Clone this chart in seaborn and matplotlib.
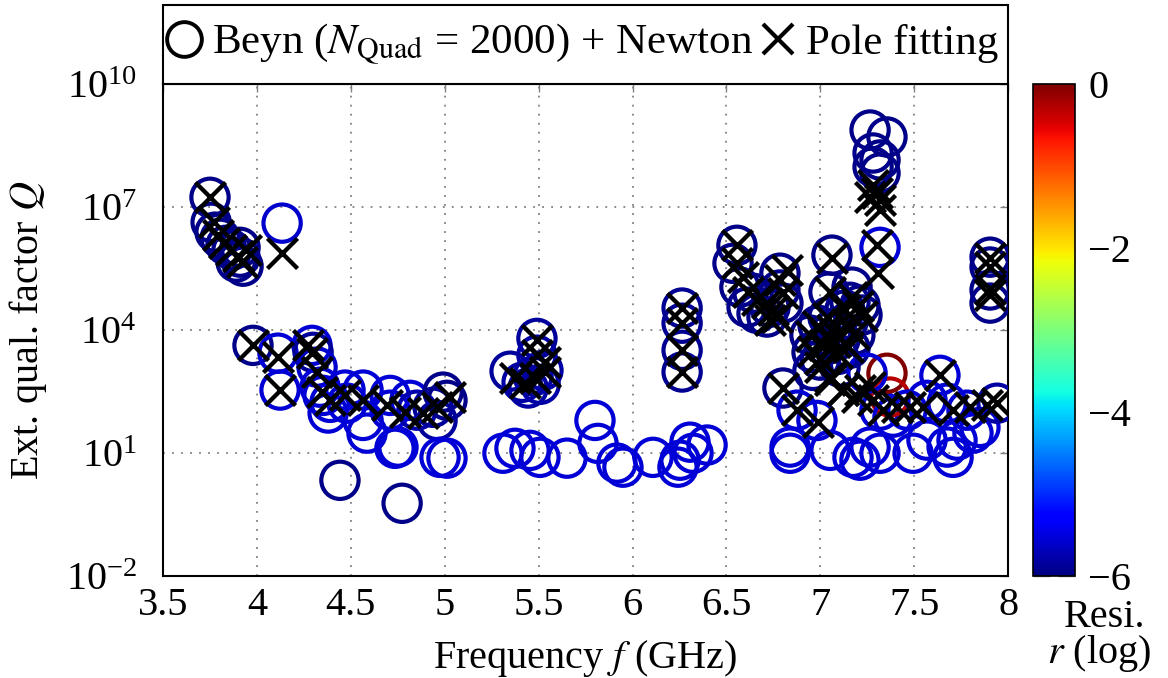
import numpy as np
import pandas as pd
import seaborn as sns
import matplotlib
matplotlib.use("Agg")
import matplotlib.pyplot as plt
from matplotlib.lines import Line2D
from matplotlib.patches import Rectangle
from matplotlib.ticker import NullLocator

# Beyn + Newton eigenvalues: frequency (GHz), log10 of Q, log10 residual
beyn_f = [
    3.750, 3.756, 3.777, 3.804, 3.835, 3.867, 3.910, 3.910, 3.889, 3.926, 4.134,
    3.979, 4.112, 4.123, 4.293, 4.299, 4.320, 4.336, 4.352, 4.379, 4.389, 4.469,
    4.480, 4.565, 4.565, 4.586, 4.709, 4.709, 4.735, 4.751, 4.815, 4.852, 4.938,
    4.991, 5.012, 4.959, 4.975, 5.012, 4.442, 4.773,
    5.491, 5.491, 5.348, 5.412, 5.470, 5.523, 5.444, 5.508,
    5.310, 5.374, 5.454, 5.507, 5.651, 5.800, 5.816, 5.917, 5.949, 6.109, 6.253,
    6.306, 6.397, 6.242, 6.322,
    6.264, 6.264, 6.264, 6.264,
    6.556, 6.535, 6.572, 6.642, 6.785, 6.785, 6.732, 6.663, 6.610, 6.801, 6.716,
    7.062, 7.046, 7.169, 7.158, 7.318,
    6.945, 6.988, 7.025, 7.062, 7.105, 7.147, 7.184, 7.222, 6.956, 7.094, 7.158,
    7.041, 7.131, 7.211, 7.000, 6.961,
    6.801, 6.876, 6.982, 6.839, 6.839, 7.052, 7.174, 7.211, 7.265, 7.318, 7.355,
    7.371, 7.249, 7.105, 7.637, 7.462, 7.494, 7.568, 7.675, 7.728, 7.707, 7.813,
    7.850, 7.941, 7.781, 7.568, 7.675, 7.387, 7.318,
    7.265, 7.355, 7.281, 7.318, 7.281, 7.318,
    7.904, 7.904, 7.904, 7.904,
]
beyn_log10q = [
    7.24, 6.63, 6.39, 6.24, 6.07, 5.95, 6.02, 5.78, 5.66, 5.56, 6.61,
    3.63, 3.44, 2.54, 3.63, 3.46, 3.10, 2.61, 2.41, 1.98, 2.24, 2.54,
    2.22, 2.54, 1.80, 1.49, 2.41, 2.05, 1.12, 1.15, 2.29, 2.05, 2.12,
    2.49, 2.29, 1.80, 0.90, 0.88, 0.34, -0.22,
    3.80, 3.39, 3.00, 2.73, 2.88, 3.02, 2.59, 2.68,
    1.00, 1.12, 1.07, 0.90, 0.88, 1.80, 1.24, 0.76, 0.66, 0.90, 0.83,
    1.27, 1.20, 0.66, 1.00,
    4.54, 4.17, 3.51, 2.98,
    6.07, 5.63, 5.05, 4.90, 5.39, 4.98, 4.56, 4.41, 4.56, 4.66, 4.32,
    5.83, 4.93, 5.05, 4.68, 6.02,
    3.88, 4.12, 3.63, 4.00, 3.78, 4.20, 3.88, 4.37, 3.46, 3.41, 3.56,
    4.32, 4.49, 4.61, 3.27, 3.02,
    2.59, 2.05, 1.80, 1.15, 1.00, 1.07, 0.90, 0.83, 1.15, 2.05, 2.95,
    2.37, 2.95, 3.10, 2.90, 2.05, 1.00, 1.32, 1.15, 1.32, 0.90, 1.49,
    1.63, 2.22, 2.05, 2.29, 2.22, 1.88, 1.00,
    8.88, 8.71, 8.32, 8.15, 7.98, 7.83,
    5.78, 5.54, 4.98, 4.66,
]
beyn_resi = [
    -5.95, -5.95, -5.95, -5.95, -5.95, -5.95, -5.95, -5.95, -5.95, -5.95, -5.6,
    -5.95, -5.55, -5.55, -5.55, -5.85, -5.6, -5.55, -5.55, -5.55, -5.55, -5.55,
    -5.55, -5.55, -5.55, -5.55, -5.55, -5.55, -5.55, -5.55, -5.55, -5.75, -5.85,
    -5.95, -5.95, -5.85, -5.55, -5.55, -5.95, -5.95,
    -5.85, -5.8, -5.85, -5.8, -5.8, -5.8, -5.8, -5.8,
    -5.55, -5.55, -5.55, -5.55, -5.55, -5.55, -5.55, -5.55, -5.55, -5.55, -5.55,
    -5.55, -5.55, -5.55, -5.55,
    -5.9, -5.9, -5.9, -5.9,
    -5.95, -5.95, -5.95, -5.95, -5.95, -5.95, -5.95, -5.95, -5.95, -5.95, -5.95,
    -5.95, -5.95, -5.95, -5.95, -5.55,
    -5.95, -5.95, -5.95, -5.95, -5.95, -5.95, -5.95, -5.95, -5.95, -5.95, -5.95,
    -5.95, -5.95, -5.95, -5.95, -5.9,
    -5.95, -5.55, -5.55, -5.55, -5.55, -5.55, -5.55, -5.55, -5.55, -5.55, 0.0,
    -0.3, -5.55, -5.9, -5.55, -5.55, -5.55, -5.55, -5.55, -5.55, -5.55, -5.55,
    -5.55, -5.8, -5.55, -5.55, -5.55, -5.55, -5.55,
    -5.95, -5.95, -5.95, -5.95, -5.95, -5.95,
    -5.95, -5.95, -5.95, -5.95,
]

# pole fitting results
pole_f = [
    3.750, 3.772, 3.793, 3.825, 3.862, 3.899, 3.921, 3.942, 4.134,
    3.979, 4.112, 4.123, 4.272, 4.293, 4.320, 4.347, 4.389, 4.469, 4.565, 4.693,
    4.789, 4.884, 4.959, 5.028,
    5.491, 5.491, 5.374, 5.428, 5.481, 5.534, 5.534,
    6.264, 6.264, 6.264, 6.264,
    6.556, 6.556, 6.588, 6.615, 6.663, 6.716, 6.748, 6.785, 6.823, 6.801, 6.769, 6.732,
    7.302, 7.307, 7.062, 7.052, 7.169,
    6.95, 6.99, 7.02, 7.06, 7.10, 7.14, 7.18, 7.22, 6.96, 7.09, 7.15, 7.04, 7.13,
    7.20, 7.00, 7.03, 7.08,
    6.998, 7.052, 7.121, 7.195, 7.265,
    6.801, 6.876, 6.988, 7.052, 7.121, 7.211, 7.281, 7.334, 7.409, 7.478, 7.547,
    7.637, 7.707, 7.797, 7.888, 7.941,
    7.281, 7.302, 7.318, 7.318, 7.265,
    7.904, 7.904, 7.904, 7.904,
]
pole_log10q = [
    7.24, 6.63, 6.32, 6.12, 5.95, 5.80, 5.66, 5.95, 5.88,
    3.63, 3.34, 2.54, 3.63, 3.44, 2.98, 2.49, 2.29, 2.41, 2.29, 2.17,
    2.00, 1.98, 2.12, 2.37,
    3.76, 3.39, 2.83, 2.71, 2.83, 2.98, 3.22,
    4.54, 4.17, 3.51, 2.98,
    6.07, 5.63, 5.29, 4.93, 4.73, 4.66, 4.49, 5.22, 5.46, 4.90, 4.32, 4.24,
    6.07, 5.39, 5.76, 4.93, 4.80,
    3.85, 4.10, 3.65, 4.00, 3.80, 4.15, 3.90, 4.35, 3.50, 3.45, 3.60, 4.30, 4.50,
    4.60, 3.30, 3.85, 3.70,
    3.10, 2.78, 2.54, 2.37, 2.61,
    2.59, 2.05, 1.76, 2.85, 2.54, 2.54, 2.29, 2.05, 2.12, 2.12, 2.12,
    2.90, 2.05, 2.12, 2.17, 2.22,
    7.54, 7.34, 7.17, 6.93, 7.24,
    5.75, 5.55, 5.00, 4.85,
]

sns.set_theme(style="white")
plt.rcParams['font.family'] = ['Liberation Serif', 'DejaVu Serif']
plt.rcParams['mathtext.fontset'] = 'stix'
plt.rcParams['font.size'] = 29
plt.rcParams['text.color'] = 'black'
plt.rcParams['axes.labelcolor'] = 'black'
plt.rcParams['xtick.color'] = 'black'
plt.rcParams['ytick.color'] = 'black'

jet = matplotlib.colormaps['jet']
fs = 29

fig = plt.figure(figsize=(11.68, 6.78), dpi=100)
ax = fig.add_axes([0.1396, 0.150, 0.7235, 0.726])

df_beyn = pd.DataFrame({'f': beyn_f, 'Q': 10.0 ** np.array(beyn_log10q), 'r': beyn_resi})
df_pole = pd.DataFrame({'f': pole_f, 'Q': 10.0 ** np.array(pole_log10q)})

sns.scatterplot(data=df_beyn, x='f', y='Q', hue='r', palette=jet, hue_norm=(-6, 0),
                s=720, linewidth=3.0, legend=False, ax=ax, zorder=3)
circ = ax.collections[-1]
circ.set_edgecolors(circ.get_facecolors())
circ.set_facecolors('none')

sns.scatterplot(data=df_pole, x='f', y='Q', marker='x', color='black',
                s=470, linewidth=3.1, legend=False, ax=ax, zorder=4)

ax.set_yscale('log')
ax.set_xlim(3.5, 8)
ax.set_ylim(1e-2, 1e10)
ax.set_xticks([3.5, 4, 4.5, 5, 5.5, 6, 6.5, 7, 7.5, 8])
ax.set_xticklabels(['3.5', '4', '4.5', '5', '5.5', '6', '6.5', '7', '7.5', '8'])
ax.set_yticks([1e-2, 1e1, 1e4, 1e7, 1e10])
ax.yaxis.set_minor_locator(NullLocator())
ax.grid(True, which='major', color='gray', linestyle=(0, (1, 4)), linewidth=1.3)
ax.tick_params(direction='in', length=6, width=1, color='gray', labelcolor='black',
               top=True, right=True, labelsize=fs)
ax.tick_params(axis='x', pad=8)
ax.tick_params(axis='y', pad=19)
for sp in ax.spines.values():
    sp.set_color('black')
    sp.set_linewidth(1.5)

ax.set_xlabel(r'Frequency $f$ (GHz)', fontsize=fs, labelpad=10)
ax.set_ylabel(r'Ext. qual. factor $Q$', fontsize=fs, labelpad=12)

# legend box spanning the axes width above the plot
ax.add_patch(Rectangle((0, 1), 1, 0.16, transform=ax.transAxes, clip_on=False,
                       facecolor='white', edgecolor='black', linewidth=1.5, zorder=5))
handles = [Line2D([], [], marker='o', mfc='none', mec='black', mew=2.8, ms=25, ls=''),
           Line2D([], [], marker='x', color='black', mew=3.0, ms=21, ls='')]
labels = [r'Beyn ($N_{\mathrm{Quad}}$ = 2000) + Newton', 'Pole fitting']
leg = ax.legend(handles, labels, loc='center', bbox_to_anchor=(0.494, 1.08), ncol=2,
                frameon=False, borderaxespad=0, handletextpad=0.15, columnspacing=0.1,
                handlelength=1.0, fontsize=31, borderpad=0)
leg.set_zorder(6)

cax = fig.add_axes([0.884, 0.150, 0.036, 0.726])
sm = plt.cm.ScalarMappable(norm=plt.Normalize(-6, 0), cmap=jet)
cb = fig.colorbar(sm, cax=cax, ticks=[0, -2, -4, -6])
cb.outline.set_linewidth(1.2)
cb.outline.set_edgecolor('black')
cax.tick_params(direction='in', length=12, width=1, color='gray', labelcolor='black',
                labelsize=fs, pad=10, left=True)
fig.text(0.946, 0.089, 'Resi.', ha='center', va='center', fontsize=fs)
fig.text(0.941, 0.036, r'$r$ (log)', ha='center', va='center', fontsize=fs)

fig.savefig('out.png', dpi=100)
